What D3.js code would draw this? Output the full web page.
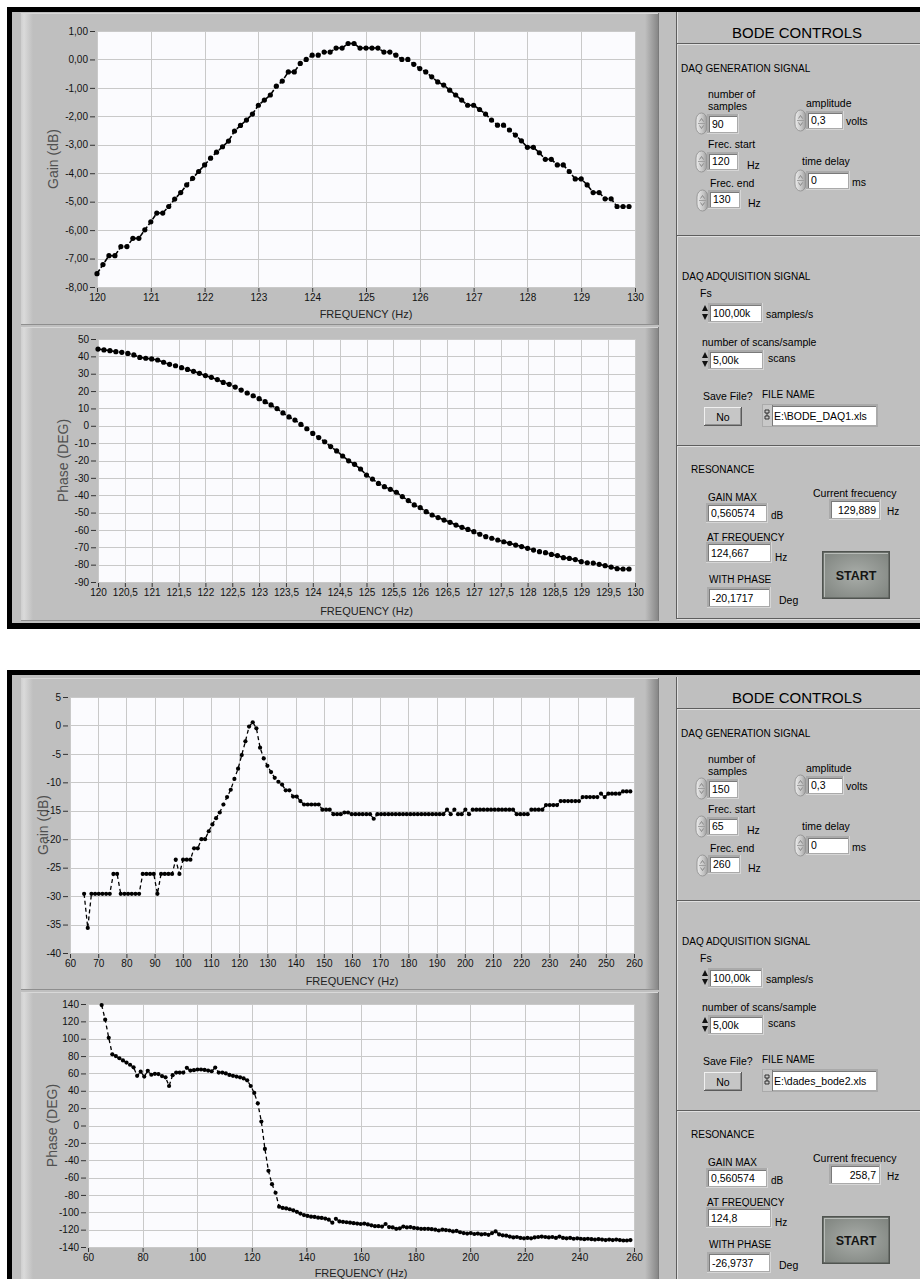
<!DOCTYPE html>
<html>
<head>
<meta charset="utf-8">
<title>Bode sweep front panel</title>
<script src="https://cdn.jsdelivr.net/npm/d3@7/dist/d3.min.js"></script>
<style>
html,body{margin:0;padding:0;background:#fff;}
svg{display:block;}
</style>
</head>
<body>
<svg id="front" width="920" height="1279"></svg>
<script>
// ---------- Sweep 1: 120 - 130 Hz, 90 samples ----------
const sweep1Freq = [
  120,120.111,120.222,120.333,120.444,120.556,120.667,120.778,120.889,
  121,121.111,121.222,121.333,121.444,121.556,121.667,121.778,121.889,
  122,122.111,122.222,122.333,122.444,122.556,122.667,122.778,122.889,
  123,123.111,123.222,123.333,123.444,123.556,123.667,123.778,123.889,
  124,124.111,124.222,124.333,124.444,124.556,124.667,124.778,124.889,
  125,125.111,125.222,125.333,125.444,125.556,125.667,125.778,125.889,
  126,126.111,126.222,126.333,126.444,126.556,126.667,126.778,126.889,
  127,127.111,127.222,127.333,127.444,127.556,127.667,127.778,127.889,
  128,128.111,128.222,128.333,128.444,128.556,128.667,128.778,128.889,
  129,129.111,129.222,129.333,129.444,129.556,129.667,129.778,129.889
];
const sweep1Gain = [
  -7.53,-7.21,-6.90,-6.90,-6.58,-6.58,-6.29,-6.29,-5.99,
  -5.71,-5.40,-5.40,-5.17,-4.91,-4.68,-4.41,-4.18,-3.94,
  -3.71,-3.47,-3.26,-3.07,-2.87,-2.52,-2.32,-2.13,-1.92,
  -1.61,-1.43,-1.25,-0.94,-0.76,-0.44,-0.44,-0.14,0.00,
  0.15,0.15,0.26,0.26,0.40,0.40,0.560574,0.56,0.40,
  0.40,0.40,0.40,0.26,0.26,0.15,0.00,0.00,-0.17,
  -0.32,-0.44,-0.61,-0.79,-0.90,-1.08,-1.25,-1.43,-1.61,
  -1.61,-1.76,-1.92,-2.13,-2.31,-2.31,-2.48,-2.66,-2.86,
  -3.09,-3.09,-3.28,-3.51,-3.51,-3.71,-3.71,-3.94,-4.20,
  -4.20,-4.41,-4.68,-4.68,-4.90,-4.90,-5.17,-5.17,-5.17
];
const sweep1Phase = [
  44.2,43.7,43.3,42.7,42.3,41.7,40.8,39.4,38.9,
  38.5,37.9,36.6,35.4,34.6,33.5,32.5,31.4,30.2,
  28.9,27.9,26.6,25.0,23.9,22.3,20.6,18.9,17.3,
  15.6,13.9,12.0,9.9,7.4,5.1,3.3,0.8,-1.7,
  -4.4,-6.8,-9.2,-12.0,-14.5,-17.4,-20.1717,-22.2,-24.9,
  -28.4,-30.7,-33.2,-35.1,-36.6,-38.3,-40.8,-43.1,-45.6,
  -47.2,-49.5,-51.4,-52.9,-54.3,-55.6,-57.2,-58.5,-59.7,
  -61.0,-62.5,-63.9,-64.8,-65.8,-66.8,-67.7,-68.7,-69.6,
  -70.6,-71.6,-72.5,-73.1,-74.1,-74.8,-76.0,-76.4,-77.1,
  -78.3,-78.9,-79.1,-79.8,-80.6,-81.4,-82.3,-82.5,-82.5
];

// ---------- Sweep 2: 65 - 260 Hz, 150 samples ----------
const sweep2Freq = [
  65,66.3,67.6,68.9,70.2,71.5,72.8,74.1,75.4,76.7,
  78,79.3,80.6,81.9,83.2,84.5,85.8,87.1,88.4,89.7,
  91,92.3,93.6,94.9,96.2,97.5,98.8,100.1,101.4,102.7,
  104,105.3,106.6,107.9,109.2,110.5,111.8,113.1,114.4,115.7,
  117,118.3,119.6,120.9,122.2,123.5,124.8,126.1,127.4,128.7,
  130,131.3,132.6,133.9,135.2,136.5,137.8,139.1,140.4,141.7,
  143,144.3,145.6,146.9,148.2,149.5,150.8,152.1,153.4,154.7,
  156,157.3,158.6,159.9,161.2,162.5,163.8,165.1,166.4,167.7,
  169,170.3,171.6,172.9,174.2,175.5,176.8,178.1,179.4,180.7,
  182,183.3,184.6,185.9,187.2,188.5,189.8,191.1,192.4,193.7,
  195,196.3,197.6,198.9,200.2,201.5,202.8,204.1,205.4,206.7,
  208,209.3,210.6,211.9,213.2,214.5,215.8,217.1,218.4,219.7,
  221,222.3,223.6,224.9,226.2,227.5,228.8,230.1,231.4,232.7,
  234,235.3,236.6,237.9,239.2,240.5,241.8,243.1,244.4,245.7,
  247,248.3,249.6,250.9,252.2,253.5,254.8,256.1,257.4,258.7
];
const sweep2Gain = [
  -29.6,-35.6,-29.6,-29.6,-29.6,-29.6,-29.6,-29.6,-26.1,-26.1,
  -29.6,-29.6,-29.6,-29.6,-29.6,-29.6,-26.1,-26.1,-26.1,-26.1,
  -29.6,-26.1,-26.1,-26.1,-26.1,-23.6,-26.1,-23.6,-23.6,-23.6,
  -21.6,-21.6,-20.0,-20.0,-18.6,-17.4,-16.3,-15.3,-13.9,-12.6,
  -11.3,-9.4,-7.6,-5.2,-2.8,-0.2,0.560574,-0.5,-3.9,-5.8,
  -7.1,-8.2,-9.2,-9.9,-10.4,-11.4,-11.4,-12.5,-12.5,-13.3,
  -13.9,-13.9,-13.9,-13.9,-13.9,-14.8,-14.8,-14.8,-15.6,-15.6,
  -15.6,-15.3,-15.3,-15.6,-15.6,-15.6,-15.6,-15.6,-15.6,-16.4,
  -15.6,-15.6,-15.6,-15.6,-15.6,-15.6,-15.6,-15.6,-15.6,-15.6,
  -15.6,-15.6,-15.6,-15.6,-15.6,-15.6,-15.6,-15.6,-15.6,-14.8,
  -15.6,-14.8,-15.6,-15.6,-14.8,-15.6,-14.8,-14.8,-14.8,-14.8,
  -14.8,-14.8,-14.8,-14.8,-14.8,-14.8,-14.8,-14.8,-15.6,-15.6,
  -15.6,-15.6,-14.8,-14.8,-14.8,-14.8,-14.0,-14.0,-14.0,-14.0,
  -13.3,-13.3,-13.3,-13.3,-13.3,-13.3,-12.6,-12.6,-12.6,-12.6,
  -12.6,-12.0,-12.6,-12.0,-12.0,-12.0,-12.0,-11.6,-11.6,-11.6
];
const sweep2Phase = [
  138.8,121.9,101,82,80,77.5,75,72.5,70,67,
  57.2,62,56.4,63,58.5,59.5,59.3,57,55.5,45.5,
  58,61,61,61,66.5,63.3,63.8,64.5,64.5,64,
  63.3,62.5,66.8,61,61,60,58.3,57.2,56.4,55.5,
  54.3,52,45.5,37.5,25.5,4.5,-26.9737,-52.2,-67.6,-77.5,
  -93.5,-95,-95.5,-96.5,-97.7,-99.5,-101.5,-103.2,-104.2,-105,
  -105.4,-106.2,-106.5,-107.3,-108.5,-112,-107.5,-110.5,-111,-111.5,
  -112,-112.5,-113,-113.5,-113,-114,-115,-116,-116,-116.5,
  -113.5,-117,-117.5,-119,-118.5,-116.5,-117.5,-117,-118,-118.5,
  -119,-119,-119,-119.5,-120,-121,-120,-120.5,-121,-122,
  -121.5,-123,-124,-124.5,-124,-125,-124.5,-125.5,-125,-126,
  -124,-122,-125.5,-126.5,-127,-128,-129,-128.5,-129.5,-130,
  -129.5,-130,-129,-128.5,-128,-128.5,-129,-128.5,-129.5,-128,
  -129.5,-130,-129.5,-130.5,-130,-130.5,-131,-130.5,-131,-131.5,
  -131,-131.5,-132,-131.5,-132,-131.5,-132,-132.5,-132.5,-132
];

// ---------- axis ticks ----------
const s1GainTicksX = [120,121,122,123,124,125,126,127,128,129,130];
const s1GainTicksY = [1,0,-1,-2,-3,-4,-5,-6,-7,-8];
const s1PhaseTicksX = [120,120.5,121,121.5,122,122.5,123,123.5,124,124.5,125,125.5,126,126.5,127,127.5,128,128.5,129,129.5,130];
const s1PhaseTicksY = [50,40,30,20,10,0,-10,-20,-30,-40,-50,-60,-70,-80,-90];
const s2GainTicksX = [60,70,80,90,100,110,120,130,140,150,160,170,180,190,200,210,220,230,240,250,260];
const s2GainTicksY = [5,0,-5,-10,-15,-20,-25,-30,-35,-40];
const s2PhaseTicksX = [60,80,100,120,140,160,180,200,220,240,260];
const s2PhaseTicksY = [140,120,100,80,60,40,20,0,-20,-40,-60,-80,-100,-120,-140];

// ---------- control panel readouts ----------
// [samples, amplitude, frec start, frec end, time delay, Fs, scans, file, gain max, at freq, with phase, current freq]
const panel1Values = ["90","0,3","120","130","0","100,00k","5,00k","E:\\BODE_DAQ1.xls","0,560574","124,667","-20,1717","129,889"];
const panel2Values = ["150","0,3","65","260","0","100,00k","5,00k","E:\\dades_bode2.xls","0,560574","124,8","-26,9737","258,7"];

// ---------- drawing ----------
const svg = d3.select("#front");
const FONT = "'Liberation Sans', Arial, sans-serif";
const GRAY = "#bfbfbf";
const loc = d3.formatLocale({decimal: ",", thousands: ".", grouping: [3], currency: ["", ""], minus: "-"});
const fmt2 = loc.format(".2f");
const fmtHalf = v => Number.isInteger(v) ? String(v) : loc.format(".1f")(v);
const fmtInt = v => String(v);

const defs = svg.append("defs");
function linGrad(id, x2, y2, stops) {
  const gr = defs.append("linearGradient").attr("id", id)
    .attr("x1", 0).attr("y1", 0).attr("x2", x2).attr("y2", y2);
  stops.forEach(s => gr.append("stop").attr("offset", s[0]).attr("stop-color", s[1]));
}
linGrad("bevelL", 1, 0, [[0, "#cfcfcf"], [0.25, "#dadada"], [1, GRAY]]);
linGrad("bevelR", 1, 0, [[0, GRAY], [1, "#878787"]]);
linGrad("spin", 1, 0, [[0, "#ececec"], [0.6, "#c4c4c4"], [1, "#9a9a9a"]]);
const rg = defs.append("radialGradient").attr("id", "startFill").attr("cx", 0.5).attr("cy", 0.5).attr("r", 0.7);
rg.append("stop").attr("offset", 0).attr("stop-color", "#a9ada9");
rg.append("stop").attr("offset", 1).attr("stop-color", "#7e837e");

function rect(g, x, y, w, h, fill) {
  return g.append("rect").attr("x", x).attr("y", y).attr("width", w).attr("height", h).attr("fill", fill);
}
function hline(g, x1, x2, y, c) {
  g.append("line").attr("x1", x1).attr("x2", x2).attr("y1", y + 0.5).attr("y2", y + 0.5).attr("stroke", c);
}
function vline(g, x, y1, y2, c) {
  g.append("line").attr("x1", x + 0.5).attr("x2", x + 0.5).attr("y1", y1).attr("y2", y2).attr("stroke", c);
}
function label(g, x, y, txt, size, opts) {
  opts = opts || {};
  return g.append("text").attr("x", x).attr("y", y).text(txt)
    .attr("font-family", FONT).attr("font-size", size)
    .attr("fill", opts.fill || "#000")
    .attr("text-anchor", opts.anchor || "start")
    .attr("font-weight", opts.weight || "normal");
}

// one graph panel frame (3D bevel)
function graphFrame(g, x0, y0, x1, y1) {
  rect(g, x0, y0, x1 - x0, y1 - y0, GRAY);
  rect(g, x0, y0, 12, y1 - y0, "url(#bevelL)");
  rect(g, x1 - 13, y0, 13, y1 - y0, "url(#bevelR)");
  hline(g, x0, x1, y0, "#d8d8d8");
  hline(g, x0, x1, y1 - 1, "#8e8e8e");
  vline(g, x1, y0, y1, "#7a7a7a");
}

// XY graph: grid, axes, dashed trace with dot markers
function plot(g, o) {
  const x = d3.scaleLinear().domain(o.xDom).range([o.l, o.r]);
  const y = d3.scaleLinear().domain(o.yDom).range([o.b, o.t]);
  rect(g, o.l, o.t, o.r - o.l, o.b - o.t, "#fbfbfe");
  g.append("g").selectAll("line").data(o.xTicks).join("line")
    .attr("x1", d => Math.round(x(d)) + 0.5).attr("x2", d => Math.round(x(d)) + 0.5)
    .attr("y1", o.t).attr("y2", o.b).attr("stroke", "#c9c9c9");
  g.append("g").selectAll("line").data(o.yTicks).join("line")
    .attr("y1", d => Math.round(y(d)) + 0.5).attr("y2", d => Math.round(y(d)) + 0.5)
    .attr("x1", o.l).attr("x2", o.r).attr("stroke", "#c9c9c9");

  const ay = g.append("g").attr("transform", `translate(${o.l - 2},0)`)
    .call(d3.axisLeft(y).tickValues(o.yTicks).tickFormat(o.yFmt).tickSize(5).tickPadding(2));
  const ax = g.append("g").attr("transform", `translate(0,${o.b + 1})`)
    .call(d3.axisBottom(x).tickValues(o.xTicks).tickFormat(o.xFmt).tickSize(4).tickPadding(2));
  [ay, ax].forEach(a => {
    a.select(".domain").remove();
    a.attr("font-family", FONT).attr("font-size", 10);
    a.selectAll("line").attr("stroke", "#333");
    a.selectAll("text").attr("fill", "#111");
  });

  label(g, (o.l + o.r) / 2, o.xTitleY, "FREQUENCY (Hz)", 11, {anchor: "middle", fill: "#222"});
  g.append("text")
    .attr("transform", `translate(${o.yTitleX},${(o.t + o.b) / 2}) rotate(-90)`)
    .attr("text-anchor", "middle").attr("dominant-baseline", "central")
    .attr("font-family", FONT).attr("font-size", 14).attr("fill", "#505050")
    .text(o.yTitle);

  const pts = o.f.map((f, i) => [f, o.v[i]]);
  g.append("path").datum(pts)
    .attr("d", d3.line().x(d => x(d[0])).y(d => y(d[1])))
    .attr("fill", "none").attr("stroke", "#000")
    .attr("stroke-width", o.lw).attr("stroke-dasharray", o.dash);
  g.append("g").selectAll("circle").data(pts).join("circle")
    .attr("cx", d => x(d[0])).attr("cy", d => y(d[1]))
    .attr("r", o.dot).attr("fill", "#000");
}

// ---- control widgets ----
function spinner(g, x, y, h) {
  g.append("rect").attr("x", x).attr("y", y).attr("width", 11).attr("height", h)
    .attr("rx", 5.5).attr("ry", 7).attr("fill", "url(#spin)")
    .attr("stroke", "#8c8c8c").attr("stroke-width", 0.8);
  const cx = x + 5.5, cy = y + h / 2;
  g.append("path").attr("d", `M${cx - 2},${cy - 2} L${cx},${cy - 5} L${cx + 2},${cy - 2}`)
    .attr("fill", "none").attr("stroke", "#7a7a7a").attr("stroke-width", 0.8);
  g.append("path").attr("d", `M${cx - 2},${cy + 2} L${cx},${cy + 5} L${cx + 2},${cy + 2}`)
    .attr("fill", "none").attr("stroke", "#7a7a7a").attr("stroke-width", 0.8);
  hline(g, x + 2, x + 9, cy - 0.5, "#a0a0a0");
}
function smallArrows(g, x, y, h) {
  const m = y + h / 2;
  g.append("path").attr("d", `M${x},${m - 1.5} L${x + 3},${y + 1} L${x + 6},${m - 1.5} Z`).attr("fill", "#111");
  g.append("path").attr("d", `M${x},${m + 1.5} L${x + 3},${y + h - 1} L${x + 6},${m + 1.5} Z`).attr("fill", "#111");
}
function field(g, x, y, w, h, txt) {
  rect(g, x - 2, y - 2, w + 4, h + 4, "#aaaaaa");
  hline(g, x - 2, x + w + 2, y + h + 1, "#d6d6d6");
  vline(g, x + w + 1, y - 2, y + h + 2, "#d6d6d6");
  rect(g, x, y, w, h, "#ffffff");
  hline(g, x, x + w, y, "#7a7a7a");
  vline(g, x, y, y + h, "#7a7a7a");
  label(g, x + 3, y + h - 4, txt, 10.5);
}
function buttonRaised(g, x, y, w, h, txt) {
  rect(g, x, y, w, h, "#c6c6c6");
  hline(g, x, x + w, y, "#f0f0f0");
  vline(g, x, y, y + h, "#f0f0f0");
  hline(g, x, x + w, y + h - 1, "#5a5a5a");
  vline(g, x + w - 1, y, y + h, "#5a5a5a");
  hline(g, x + 1, x + w - 1, y + h - 2, "#909090");
  vline(g, x + w - 2, y + 1, y + h - 1, "#909090");
  label(g, x + w / 2, y + h / 2 + 4, txt, 10.5, {anchor: "middle"});
}

function controls(g, oy, v) {
  const Y = d => oy + d;
  // section frame
  vline(g, 676, Y(12), Y(618), "#5e5e5e");
  vline(g, 677, Y(12), Y(618), "#e0e0e0");
  [43, 235, 445, 618].forEach(yy => {
    hline(g, 676, 920, Y(yy), "#5e5e5e");
    hline(g, 677, 920, Y(yy) + 1, "#e0e0e0");
  });
  label(g, 797, Y(38), "BODE  CONTROLS", 15, {anchor: "middle"});

  // generation
  label(g, 681, Y(72), "DAQ GENERATION SIGNAL", 10);
  label(g, 708, Y(98), "number of", 10.5);
  label(g, 708, Y(110), "samples", 10.5);
  spinner(g, 696, Y(113), 21);
  field(g, 709, Y(116), 28, 16, v[0]);

  label(g, 806, Y(107), "amplitude", 10.5);
  spinner(g, 795, Y(110), 21);
  field(g, 808, Y(113), 34, 15, v[1]);
  label(g, 846, Y(125), "volts", 10.5);

  label(g, 708, Y(148), "Frec. start", 10.5);
  spinner(g, 696, Y(151), 21);
  field(g, 709, Y(154), 28, 15, v[2]);
  label(g, 747, Y(169), "Hz", 10.5);

  label(g, 802, Y(165), "time delay", 10.5);
  spinner(g, 795, Y(170), 21);
  field(g, 808, Y(173), 40, 15, v[4]);
  label(g, 852, Y(186), "ms", 10.5);

  label(g, 710, Y(187), "Frec. end", 10.5);
  spinner(g, 697, Y(190), 21);
  field(g, 710, Y(192), 29, 15, v[3]);
  label(g, 748, Y(207), "Hz", 10.5);

  // acquisition
  label(g, 682, Y(280), "DAQ ADQUISITION SIGNAL", 10);
  label(g, 700, Y(297), "Fs", 10.5);
  smallArrows(g, 702, Y(304), 17);
  field(g, 710, Y(305), 51, 16, v[5]);
  label(g, 766, Y(318), "samples/s", 10.5);

  label(g, 702, Y(346), "number of scans/sample", 10.5);
  smallArrows(g, 702, Y(351), 17);
  field(g, 710, Y(352), 52, 16, v[6]);
  label(g, 768, Y(362), "scans", 10.5);

  label(g, 703, Y(400), "Save File?", 10.5);
  label(g, 762, Y(398), "FILE NAME", 10);
  buttonRaised(g, 704, Y(407), 38, 19, "No");

  // file path control
  rect(g, 762, Y(404), 116, 23, "#aaaaaa");
  rect(g, 763, Y(405), 9, 21, "#c8c8c8");
  vline(g, 772, Y(405), Y(426), "#7a7a7a");
  rect(g, 773, Y(406), 103, 19, "#ffffff");
  hline(g, 773, 876, Y(406), "#7a7a7a");
  g.append("path")
    .attr("d", `M765,${Y(410)} h4 v3 h-4 Z M767,${Y(413)} v3 M765,${Y(416)} h4 v3 h-4 Z`)
    .attr("fill", "none").attr("stroke", "#222").attr("stroke-width", 0.9);
  label(g, 774, Y(420), v[7], 10.5);

  // resonance
  label(g, 691, Y(473), "RESONANCE", 10);
  label(g, 708, Y(501), "GAIN MAX", 10);
  field(g, 708, Y(505), 58, 16, v[8]);
  label(g, 771, Y(519), "dB", 10);

  label(g, 813, Y(497), "Current frecuency", 10.5);
  field(g, 831, Y(501), 48, 17, "");
  label(g, 876, Y(514), v[11], 10.5, {anchor: "end"});
  label(g, 887, Y(515), "Hz", 10);

  label(g, 707, Y(541), "AT FREQUENCY", 10);
  field(g, 708, Y(544), 62, 17, v[9]);
  label(g, 775, Y(561), "Hz", 10);

  label(g, 709, Y(583), "WITH PHASE", 10);
  field(g, 709, Y(589), 60, 17, v[10]);
  label(g, 779, Y(604), "Deg", 10.5);

  // START button
  rect(g, 822, Y(551), 68, 48, "#505450");
  rect(g, 823.5, Y(552.5), 65, 45, "url(#startFill)");
  hline(g, 824, 888, Y(553), "#b8bcb8");
  vline(g, 824, Y(553), Y(597), "#b8bcb8");
  label(g, 856, Y(580), "START", 12.5, {anchor: "middle", weight: "bold", fill: "#151515"});
}

function screen(frameTop, oy, closed) {
  const g = svg.append("g");
  const bottom = closed ? oy + 629 : 1300;
  rect(g, 7, frameTop, 913, bottom - frameTop, "#000");
  rect(g, 12, frameTop + 5, 908, (closed ? oy + 623 : 1300) - (frameTop + 5), GRAY);
  graphFrame(g, 21, oy + 13, 658, oy + 325);
  graphFrame(g, 21, oy + 327, 658, closed ? oy + 621 : 1300);
  return g;
}

// first front panel: narrow sweep around the resonance
const g1 = screen(7, 0, true);
plot(g1, {
  l: 97, r: 635, t: 31, b: 287, xDom: [120, 130], yDom: [-8, 1],
  xTicks: s1GainTicksX, yTicks: s1GainTicksY, xFmt: fmtInt, yFmt: fmt2,
  f: sweep1Freq, v: sweep1Gain, dot: 2.6, lw: 1.6, dash: "5,2",
  yTitle: "Gain (dB)", yTitleX: 53, xTitleY: 318
});
plot(g1, {
  l: 98, r: 635, t: 339, b: 582, xDom: [120, 130], yDom: [-90, 50],
  xTicks: s1PhaseTicksX, yTicks: s1PhaseTicksY, xFmt: fmtHalf, yFmt: fmtInt,
  f: sweep1Freq, v: sweep1Phase, dot: 2.6, lw: 1.6, dash: "5,2",
  yTitle: "Phase (DEG)", yTitleX: 63, xTitleY: 615
});
controls(g1, 0, panel1Values);

// second front panel: wide sweep 65 - 260 Hz
const g2 = screen(670, 665, false);
plot(g2, {
  l: 70, r: 634, t: 697, b: 953, xDom: [60, 260], yDom: [-40, 5],
  xTicks: s2GainTicksX, yTicks: s2GainTicksY, xFmt: fmtInt, yFmt: fmtInt,
  f: sweep2Freq, v: sweep2Gain, dot: 2.1, lw: 1.3, dash: "4,3",
  yTitle: "Gain (dB)", yTitleX: 43, xTitleY: 985
});
plot(g2, {
  l: 88, r: 634, t: 1004, b: 1247, xDom: [60, 260], yDom: [-140, 140],
  xTicks: s2PhaseTicksX, yTicks: s2PhaseTicksY, xFmt: fmtInt, yFmt: fmtInt,
  f: sweep2Freq, v: sweep2Phase, dot: 2.1, lw: 1.3, dash: "4,3",
  yTitle: "Phase (DEG)", yTitleX: 52, xTitleY: 1277
});
controls(g2, 665, panel2Values);
</script>
</body>
</html>
